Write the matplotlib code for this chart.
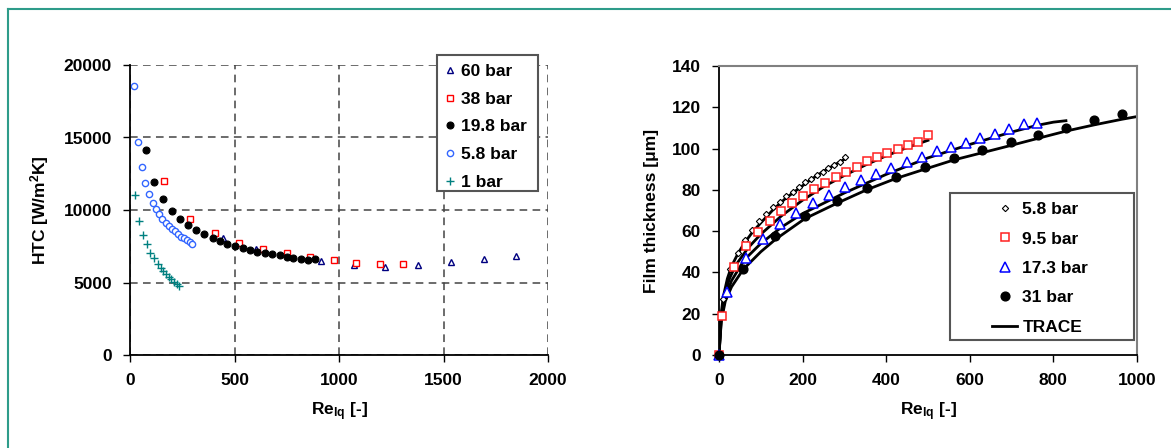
import matplotlib
matplotlib.use('Agg')
import matplotlib.pyplot as plt
from matplotlib.patches import Rectangle
from matplotlib.lines import Line2D

plt.rcParams['font.family'] = ['Liberation Sans', 'DejaVu Sans']
plt.rcParams['font.weight'] = 'bold'
plt.rcParams['mathtext.fontset'] = 'custom'
plt.rcParams['mathtext.rm'] = 'Liberation Sans:bold'
plt.rcParams['mathtext.it'] = 'Liberation Sans:bold'
plt.rcParams['mathtext.bf'] = 'Liberation Sans:bold'
plt.rcParams['mathtext.default'] = 'rm'

# ---------------- Left chart: HTC vs Re_lq ----------------
re_60 = [447, 605, 760, 916, 1072, 1222, 1378, 1534, 1692, 1848]
htc_60 = [8070, 7310, 6800, 6460, 6190, 6070, 6210, 6410, 6640, 6830]

re_38 = [164, 286, 407, 523, 635, 751, 863, 975, 1083, 1195, 1306]
htc_38 = [11980, 9400, 8440, 7750, 7330, 7010, 6780, 6530, 6320, 6260, 6260]

re_198 = [78, 116, 160, 199, 239, 278, 317, 356, 396, 429, 466, 501, 539, 576,
          608, 644, 681, 718, 750, 780, 817, 850, 885]
htc_198 = [14140, 11910, 10740, 9910, 9360, 8990, 8620, 8370, 8090, 7860, 7680,
           7540, 7360, 7220, 7100, 7060, 6940, 6870, 6740, 6670, 6620, 6570, 6620]

re_58 = [20, 40, 57, 73, 91, 108, 126, 139, 155, 172, 185, 199, 214, 230, 244,
         258, 273, 286, 298]
htc_58 = [18550, 14690, 12970, 11840, 11100, 10480, 10040, 9700, 9380, 9130, 8900,
          8710, 8530, 8340, 8160, 8040, 7930, 7790, 7630]

re_1 = [24, 45, 61, 80, 97, 115, 132, 147, 160, 172, 185, 198, 210, 223, 234]
htc_1 = [11060, 9260, 8280, 7630, 7060, 6670, 6300, 6020, 5790, 5610, 5400,
         5220, 5030, 4900, 4740]

left_labels = ['60 bar', '38 bar', '19.8 bar', '5.8 bar', '1 bar']
left_xticks = [0, 500, 1000, 1500, 2000]
left_yticks = [0, 5000, 10000, 15000, 20000]

# ---------------- Right chart: film thickness vs Re_lq ----------------
re_f58 = [0, 10, 26, 46, 63, 78, 96, 112, 129, 146, 161, 177, 192, 206, 220, 234,
          248, 261, 274, 289, 302]
th_f58 = [0, 27, 41.5, 49.6, 55.6, 60.6, 64.8, 68.3, 71.9, 74.3, 77, 79.1, 81.2,
          83.6, 85.4, 87.3, 88.8, 90.4, 92.1, 93.7, 95.8]

re_f95 = [0, 6, 36, 65, 94, 122, 148, 174, 201, 228, 254, 280, 304, 329, 353, 379,
          403, 428, 452, 476, 499]
th_f95 = [0, 18.7, 42.5, 52.8, 59.7, 64.9, 69.6, 73.5, 77.2, 80.6, 83.2, 86.2, 88.8,
          91.1, 93.8, 95.9, 97.7, 99.8, 101.9, 103.3, 106.4]

re_f173 = [0, 18, 64, 105, 146, 185, 225, 263, 301, 339, 376, 412, 449, 485, 521,
           556, 591, 625, 660, 694, 729, 761]
th_f173 = [0, 30.4, 47, 56.4, 63.5, 68.8, 73.5, 77.5, 81.4, 84.6, 87.7, 90.8, 93.5,
           96.1, 98.7, 100.6, 102.9, 105, 107.2, 109.5, 111.7, 112.2]

re_f31 = [0, 58, 135, 205, 282, 353, 423, 492, 562, 630, 698, 764, 831, 898, 964]
th_f31 = [0, 41.7, 57.8, 67.5, 74.8, 81.1, 86.2, 90.9, 95.4, 99.3, 103.4, 106.7,
          110.2, 113.6, 116.9]

# TRACE curves
tr58_x = [0, 4, 10, 20, 30, 45, 60, 80, 100, 130, 160, 190, 220, 250, 280, 302]
tr58_y = [0, 18, 28, 37, 43, 49, 54, 59.5, 64, 70.5, 76, 80.5, 85, 89, 92.5, 95]

tr95_x = [0, 5, 12, 25, 40, 70, 100, 150, 200, 250, 300, 350, 400, 450, 500]
tr95_y = [0, 18, 28, 37, 43.5, 52, 58.5, 67.5, 75, 81.5, 87, 92, 96.5, 100.5, 104]

tr173_x = [0, 6, 15, 30, 60, 100, 150, 200, 300, 400, 500, 600, 700, 760, 800, 830]
tr173_y = [0, 18, 28, 36, 46, 54, 62, 68.5, 78.5, 87.5, 95.5, 102, 108, 111.2,
           112.8, 113.5]

tr31_x = [0, 5, 15, 30, 58, 100, 135, 205, 282, 353, 423, 492, 562, 630, 698, 764,
          831, 898, 964, 1000]
tr31_y = [0, 16, 26, 33, 41.5, 50, 56, 66, 73.5, 80, 85.5, 90, 94.5, 98, 101.5,
          105, 108.5, 111.5, 114.2, 115.5]

right_labels = ['5.8 bar', '9.5 bar', '17.3 bar', '31 bar', 'TRACE']
right_xticks = [0, 200, 400, 600, 800, 1000]
right_yticks = [0, 20, 40, 60, 80, 100, 120, 140]

W, H = 1171, 448
FS = 12.5
fig = plt.figure(figsize=(W / 100, H / 100), dpi=100)

# teal frame
fig.add_artist(Line2D([8 / W, 8 / W], [0, 1 - 9 / H], transform=fig.transFigure,
                      color='#2E9C8A', lw=1.5))
fig.add_artist(Line2D([8 / W, 1], [1 - 9 / H, 1 - 9 / H], transform=fig.transFigure,
                      color='#2E9C8A', lw=1.5))

ax1 = fig.add_axes([130 / W, 1 - 355 / H, 418 / W, 290 / H])
ax2 = fig.add_axes([719 / W, 1 - 355 / H, 418 / W, 289 / H])

# ---- left ----
h60, = ax1.plot(re_60, htc_60, ls='none', marker='^', ms=4.5, mfc='white', mec='#000080', mew=1.0)
h38, = ax1.plot(re_38, htc_38, ls='none', marker='s', ms=4.3, mfc='white', mec='#FF0000', mew=1.0)
h198, = ax1.plot(re_198, htc_198, ls='none', marker='o', ms=5, mfc='black', mec='black', mew=0.8)
h58, = ax1.plot(re_58, htc_58, ls='none', marker='o', ms=4.5, mfc='white', mec='#3366FF', mew=1.0)
h1, = ax1.plot(re_1, htc_1, ls='none', marker='+', ms=5.5, mec='#008080', mew=1.0)
h198.set_zorder(3)

ax1.set_xlim(0, 2000)
ax1.set_ylim(0, 20000)
ax1.set_xticks(left_xticks)
ax1.set_yticks(left_yticks)
ax1.set_axisbelow(True)
ax1.grid(True, ls=(0, (5, 3.5)), color='#444444', lw=1.1)
for s in ['top', 'right']:
    ax1.spines[s].set_visible(False)
for s in ['left', 'bottom']:
    ax1.spines[s].set_linewidth(1.3)
ax1.tick_params(direction='out', length=5, width=1, pad=8, labelsize=FS)
ax1.set_xlabel('Re$_{lq}$ [-]', fontsize=FS, fontweight='bold', labelpad=9)
ax1.set_ylabel('HTC [W/m$^{2}$K]', fontsize=FS, fontweight='bold', labelpad=9)

# left legend frame and legend
fig.add_artist(Rectangle((437 / W, 1 - 191 / H), 101 / W, 136 / H, transform=fig.transFigure,
                         fc='white', ec='#555555', lw=1.5, zorder=3))
fig.legend([h60, h38, h198, h58, h1], left_labels, loc='upper left',
           bbox_to_anchor=(445 / W, 1 - 64 / H), frameon=False, borderpad=0,
           borderaxespad=0, handlelength=0.6, handletextpad=0.35, labelspacing=0.72,
           prop={'size': FS, 'weight': 'bold'})

# ---- right ----
for tx, ty in [(tr58_x, tr58_y), (tr95_x, tr95_y), (tr173_x, tr173_y), (tr31_x, tr31_y)]:
    htr, = ax2.plot(tx, ty, color='black', lw=2.0, zorder=2, clip_on=True)
g58, = ax2.plot(re_f58, th_f58, ls='none', marker='D', ms=3.2, mfc='white', mec='black', mew=0.8, zorder=3)
g95, = ax2.plot(re_f95, th_f95, ls='none', marker='s', ms=5.8, mfc='white', mec='#FF2020', mew=1.1, zorder=3)
g173, = ax2.plot(re_f173, th_f173, ls='none', marker='^', ms=7, mfc='white', mec='#0000FF', mew=1.1, zorder=3)
g31, = ax2.plot(re_f31, th_f31, ls='none', marker='o', ms=6.3, mfc='black', mec='black', zorder=4)
for g in (g58, g95, g173, g31):
    g.set_clip_on(False)

ax2.set_xlim(0, 1000)
ax2.set_ylim(0, 140)
ax2.set_xticks(right_xticks)
ax2.set_yticks(right_yticks)
for s in ['top', 'right']:
    ax2.spines[s].set_color('#808080')
    ax2.spines[s].set_linewidth(1.5)
for s in ['left', 'bottom']:
    ax2.spines[s].set_linewidth(1.3)
ax2.tick_params(direction='out', length=5, width=1, pad=8, labelsize=FS)
ax2.set_xlabel('Re$_{lq}$ [-]', fontsize=FS, fontweight='bold', labelpad=9)
ax2.set_ylabel('Film thickness [μm]', fontsize=FS, fontweight='bold', labelpad=9)

fig.add_artist(Rectangle((950 / W, 1 - 340 / H), 184 / W, 147 / H, transform=fig.transFigure,
                         fc='white', ec='#555555', lw=1.5, zorder=3))
fig.legend([g58, g95, g173, g31, htr], right_labels, loc='upper left',
           bbox_to_anchor=(992 / W, 1 - 202 / H), frameon=False, borderpad=0,
           borderaxespad=0, handlelength=1.45, handletextpad=0.3, labelspacing=0.82,
           prop={'size': FS, 'weight': 'bold'})

fig.savefig('out.png', dpi=100)
